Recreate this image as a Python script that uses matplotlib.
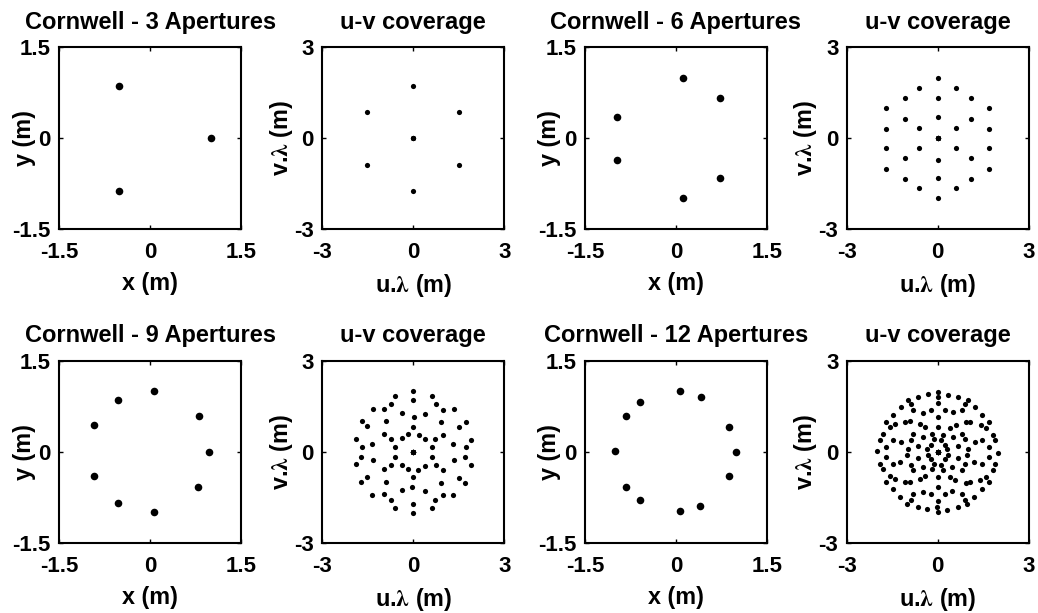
import numpy as np
import matplotlib
matplotlib.use("Agg")
import matplotlib.pyplot as plt

plt.rcParams['font.family'] = ['Liberation Sans', 'DejaVu Sans']
plt.rcParams['font.weight'] = 'bold'
plt.rcParams['mathtext.fontset'] = 'stix'

# Aperture centre positions (m) for each Cornwell configuration
x3 = [1.00, -0.52, -0.52]
y3 = [0.00, 0.87, -0.87]

x6 = [0.12, 0.73, -0.97, -0.97, 0.73, 0.12]
y6 = [0.99, 0.66, 0.35, -0.35, -0.66, -0.99]

x9 = [0.06, -0.54, 0.81, -0.92, 0.97, -0.92, 0.78, -0.54, 0.06]
y9 = [1.01, 0.86, 0.59, 0.44, 0.00, -0.39, -0.57, -0.84, -0.99]

x12 = [0.07, 0.41, -0.59, -0.82, 0.88, -1.01, 0.99, 0.88, -0.82, -0.59, 0.39, 0.07]
y12 = [1.01, 0.91, 0.82, 0.59, 0.42, 0.02, 0.00, -0.39, -0.57, -0.79, -0.89, -0.98]

configs = [
    ("Cornwell - 3 Apertures", x3, y3),
    ("Cornwell - 6 Apertures", x6, y6),
    ("Cornwell - 9 Apertures", x9, y9),
    ("Cornwell - 12 Apertures", x12, y12),
]

pos_ticks = [-1.5, 0, 1.5]
pos_ticklabels = ["-1.5", "0", "1.5"]
uv_ticks = [-3, 0, 3]
uv_ticklabels = ["-3", "0", "3"]


def baselines(x, y):
    """All pairwise baseline vectors u = x_i - x_j, v = y_i - y_j (including zero)."""
    x = np.asarray(x)
    y = np.asarray(y)
    u = (x[:, None] - x[None, :]).ravel()
    v = (y[:, None] - y[None, :]).ravel()
    return u, v


W, H = 1038, 613
fig = plt.figure(figsize=(W / 100, H / 100), dpi=100)

lefts = [59.3, 585.0]
uv_lefts = [322.3, 846.7]
tops = [47.3, 361.0]
size = 182.0

TICK_FS = 16
LABEL_FS = 16.8
TITLE_FS = 17


def style(ax, lim, ticks, ticklabels):
    ax.set_xlim(-lim, lim)
    ax.set_ylim(-lim, lim)
    ax.set_xticks(ticks)
    ax.set_yticks(ticks)
    ax.set_xticklabels(ticklabels, fontsize=TICK_FS, fontweight='bold')
    ax.set_yticklabels(ticklabels, fontsize=TICK_FS, fontweight='bold')
    ax.tick_params(direction='in', length=3, width=1, top=True, right=True,
                   pad=6)
    ax.tick_params(axis='x', pad=9)
    for s in ax.spines.values():
        s.set_linewidth(1.5)


for k, (title, xs, ys) in enumerate(configs):
    row, col = divmod(k, 2)
    top = tops[row]
    bottom = 1 - (top + size) / H

    ax = fig.add_axes([lefts[col] / W, bottom, size / W, size / H])
    ax.scatter(xs, ys, s=30, color='black', linewidths=0)
    style(ax, 1.5, pos_ticks, pos_ticklabels)
    ax.set_title(title, fontsize=TITLE_FS, fontweight='bold', pad=13.5)
    ax.set_xlabel("x (m)", fontsize=LABEL_FS, fontweight='bold')
    ax.set_ylabel("y (m)", fontsize=LABEL_FS, fontweight='bold')
    ax.xaxis.set_label_coords(0.5, -0.235)
    ax.xaxis.label.set_va('top')
    ax.yaxis.set_label_coords(-0.13, 0.5)

    u, v = baselines(xs, ys)
    ax2 = fig.add_axes([uv_lefts[col] / W, bottom, size / W, size / H])
    ax2.scatter(u, v, s=14, color='black', linewidths=0)
    style(ax2, 3, uv_ticks, uv_ticklabels)
    ax2.set_title("u-v coverage", fontsize=TITLE_FS, fontweight='bold', pad=13.5)
    ax2.set_xlabel(r"u.$\mathrm{\lambda}$ (m)", fontsize=LABEL_FS, fontweight='bold')
    ax2.set_ylabel(r"v.$\mathrm{\lambda}$ (m)", fontsize=LABEL_FS, fontweight='bold')
    ax2.xaxis.set_label_coords(0.5, -0.235)
    ax2.xaxis.label.set_va('top')
    ax2.yaxis.set_label_coords(-0.15, 0.5)

fig.savefig("out.png", dpi=100, facecolor='white')
